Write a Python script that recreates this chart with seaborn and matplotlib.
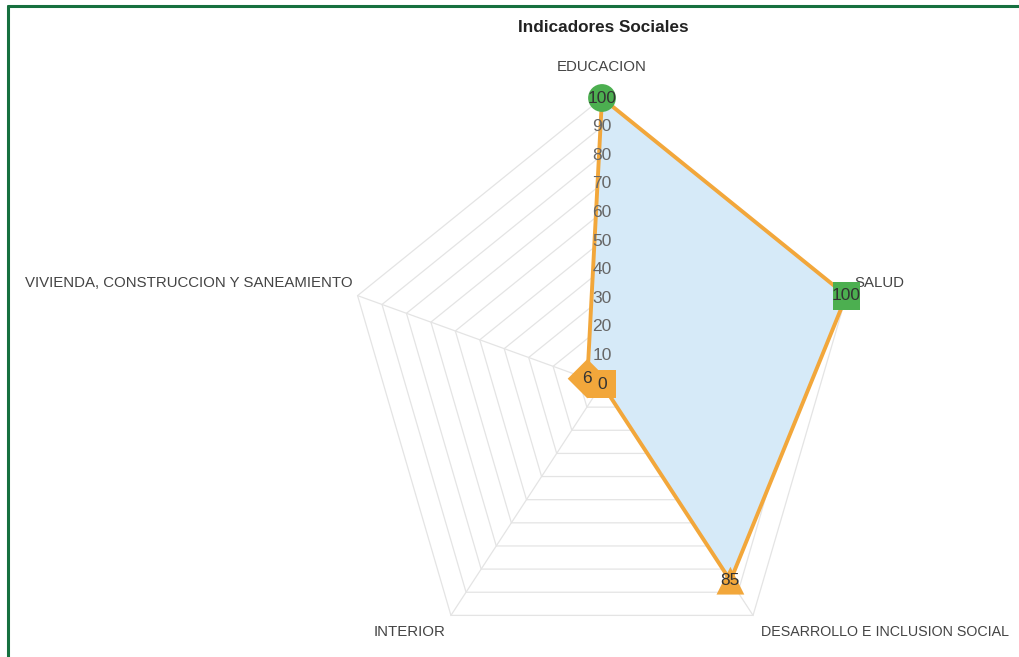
import numpy as np
import pandas as pd
import matplotlib.pyplot as plt
from matplotlib.lines import Line2D
import seaborn as sns

# datos del grafico
categorias = ['EDUCACION', 'SALUD', 'DESARROLLO E INCLUSION SOCIAL',
              'INTERIOR', 'VIVIENDA, CONSTRUCCION Y SANEAMIENTO']
valores = [100, 100, 85, 0, 6]
marcadores = ['o', 's', '^', 's', 'D']
colores_punto = ['#4caf50', '#4caf50', '#f2a73b', '#f2a73b', '#f2a73b']
niveles = [0, 10, 20, 30, 40, 50, 60, 70, 80, 90, 100]

sns.set_theme(style='white')
plt.rcParams['font.family'] = ['Liberation Sans', 'DejaVu Sans']

fig = plt.figure(figsize=(10.19, 6.57), dpi=100)
ax = fig.add_axes([345 / 1019, -13 / 657, 514 / 1019, 572 / 657], projection='polar')
ax.set_aspect('auto')
ax.set_theta_offset(np.pi / 2)
ax.set_theta_direction(-1)
ax.set_ylim(0, 100)
ax.set_xticks([])
ax.set_yticks([])
ax.grid(False)
ax.spines['polar'].set_visible(False)
ax.patch.set_alpha(0)

n = len(categorias)
theta = np.arange(n) * 2 * np.pi / n
theta_c = np.append(theta, theta[0])

# rejilla pentagonal
for nv in niveles[1:]:
    ax.plot(theta_c, [nv] * (n + 1), color='#e4e4e4', lw=0.9, zorder=1, clip_on=False)
for t in theta:
    ax.plot([t, t], [0, 100], color='#e4e4e4', lw=0.9, zorder=1, clip_on=False)

# serie
vals_c = valores + [valores[0]]
ax.fill(theta_c, vals_c, color='#d6eaf8', zorder=2)
ax.plot(theta_c, vals_c, color='#f2a73b', lw=2.8, zorder=3, clip_on=False)

# etiquetas del eje radial
for nv in niveles[:-1]:
    ax.text(0, nv, str(nv), ha='center', va='center', fontsize=12.5,
            color='#666666', zorder=4)

df = pd.DataFrame({'theta': theta, 'valor': valores, 'cat': categorias})
sns.scatterplot(data=df, x='theta', y='valor', hue='cat', style='cat',
                palette=dict(zip(categorias, colores_punto)),
                markers=dict(zip(categorias, marcadores)),
                s=400, linewidth=0, legend=False, ax=ax, zorder=5, clip_on=False)

for t, v in zip(theta, valores):
    ax.text(t, v, str(v), ha='center', va='center', fontsize=12.5,
            color='#333333', zorder=6, clip_on=False)

# nombres de categorias
desp = [(0, 31, 'center', 10.8), (8, 13, 'left', 10.8), (8, -17, 'left', 10.3),
        (-5, -17, 'right', 10.8), (-5, 13, 'right', 10.8)]
for t, cat, (dx, dy, ha, fs) in zip(theta, categorias, desp):
    ax.annotate(cat, xy=(t, 100), xytext=(dx, dy), textcoords='offset pixels',
                ha=ha, va='center', fontsize=fs, color='#444444',
                annotation_clip=False)

fig.text(603 / 1019, 1 - 28 / 657, 'Indicadores Sociales', ha='center', va='center',
         fontsize=12.3, fontweight='bold', color='#222222')

# marco verde
fig.add_artist(Line2D([7.5 / 1019, 7.5 / 1019], [0, 1 - 6 / 657],
                      color='#16703f', lw=2.2, transform=fig.transFigure))
fig.add_artist(Line2D([7.5 / 1019, 1], [1 - 6 / 657, 1 - 6 / 657],
                      color='#16703f', lw=2.2, transform=fig.transFigure))

fig.savefig('out.png', dpi=100)
